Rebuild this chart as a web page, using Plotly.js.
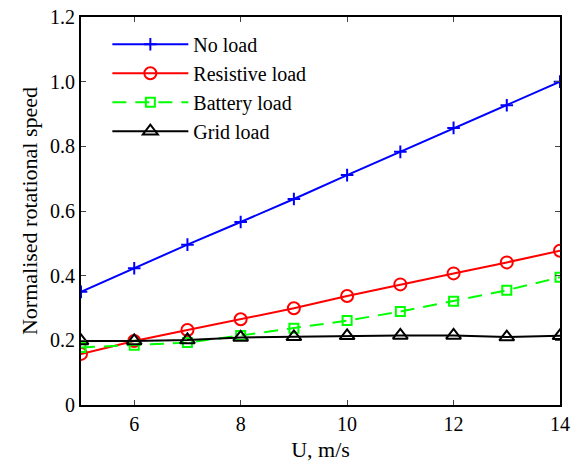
<!DOCTYPE html>
<html><head><meta charset="utf-8">
<script src="https://cdn.plot.ly/plotly-3.0.1.min.js"></script>
<style>html,body{margin:0;padding:0;background:#fff}#c{width:571px;height:465px}</style>
</head><body><div id="c"></div>
<script>
const windSpeed = [5, 6, 7, 8, 9, 10, 11, 12, 13, 14];
const noLoad = [0.350, 0.423, 0.496, 0.566, 0.637, 0.711, 0.783, 0.857, 0.927, 1.000];
const resistiveLoad = [0.158, 0.198, 0.232, 0.265, 0.299, 0.337, 0.373, 0.407, 0.441, 0.477];
const batteryLoad = [0.178, 0.185, 0.193, 0.215, 0.237, 0.261, 0.289, 0.321, 0.355, 0.395];
const gridLoad = [0.198, 0.198, 0.201, 0.209, 0.211, 0.214, 0.215, 0.215, 0.210, 0.214];
const yTickVals = [0, 0.2, 0.4, 0.6, 0.8, 1.0, 1.2];
const yTickText = ['0', '0.2', '0.4', '0.6', '0.8', '1.0', '1.2'];
const xTickVals = [6, 8, 10, 12, 14];

const font = 'Liberation Serif, Times New Roman, serif';
const traces = [
  {x: windSpeed, y: noLoad, name: 'No load', mode: 'lines+markers',
   line: {color: '#0000ff', width: 2}, marker: {symbol: 'cross-thin-open', size: 9, line: {color: '#0000ff', width: 2}}},
  {x: windSpeed, y: resistiveLoad, name: 'Resistive load', mode: 'lines+markers',
   line: {color: '#ff0000', width: 2}, marker: {symbol: 'circle-open', size: 12, color: '#ff0000', line: {width: 2}}},
  {x: windSpeed, y: batteryLoad, name: 'Battery load', mode: 'lines+markers',
   line: {color: '#00ff00', width: 2, dash: '14px,9px'}, marker: {symbol: 'square-open', size: 9, color: '#00ff00', line: {width: 2}}},
  {x: windSpeed, y: gridLoad, name: 'Grid load', mode: 'lines+markers',
   line: {color: '#000000', width: 2}, marker: {symbol: 'triangle-up-open', size: 13, color: '#000000', line: {width: 2}}}
];
const layout = {
  width: 571, height: 465,
  margin: {l: 81, r: 11, t: 17, b: 60},
  paper_bgcolor: '#fff', plot_bgcolor: '#fff',
  font: {family: font, size: 20, color: '#000'},
  showlegend: true,
  legend: {x: 0.055, y: 0.98, xanchor: 'left', yanchor: 'top', bgcolor: 'rgba(255,255,255,0)',
           font: {family: font, size: 20}, itemwidth: 76, tracegroupgap: 0},
  xaxis: {range: [5, 14], tickvals: xTickVals, ticks: 'inside', ticklen: 5, tickwidth: 1,
          showline: true, linewidth: 2, linecolor: '#000', mirror: 'ticks', showgrid: false, zeroline: false,
          title: {text: 'U, m/s', font: {family: font, size: 22}, standoff: 8}, tickfont: {family: font, size: 20}},
  yaxis: {range: [0, 1.2], tickvals: yTickVals, ticktext: yTickText, ticks: 'inside', ticklen: 5, tickwidth: 1,
          showline: true, linewidth: 2, linecolor: '#000', mirror: 'ticks', showgrid: false, zeroline: false,
          title: {text: 'Normalised rotational speed', font: {family: font, size: 22}, standoff: 6}, tickfont: {family: font, size: 20}}
};
Plotly.newPlot('c', traces, layout, {displayModeBar: false});
</script></body></html>
